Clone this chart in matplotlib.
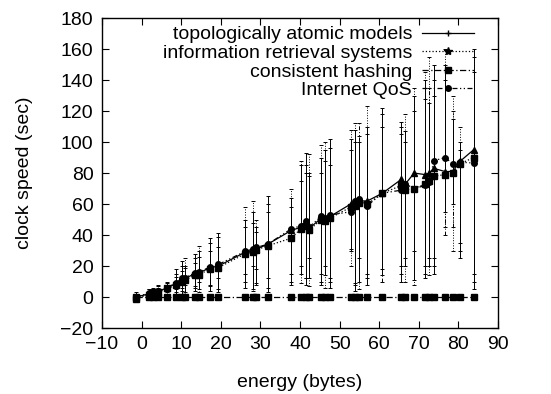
import matplotlib
matplotlib.use("Agg")
import matplotlib.pyplot as plt
from matplotlib.lines import Line2D

plt.rcParams['font.family'] = ['Liberation Sans', 'DejaVu Sans']

x = [-1.4, 1.8, 3.0, 4.2, 6.4, 8.6, 10.2, 11.0, 13.4, 14.4, 17.4, 19.4, 26.2, 28.2,
     29.0, 31.8, 37.8, 40.2, 41.4, 42.2, 45.4, 46.4, 47.6, 52.8, 53.8, 54.8, 57.0,
     60.8, 65.6, 66.6, 68.8, 71.6, 72.6, 73.8, 76.6, 78.6, 80.4, 83.8]

# topologically atomic models
topo = [0, 2, 3, 3.5, 6, 8.5, 11, 12, 15, 15.5, 19, 20, 29, 30, 31, 34, 43, 45, 48, 44,
        51, 50, 52, 60, 61, 62, 62, 67, 76, 73, 80, 79, 80, 83, 81, 81, 87.6, 95]
topo_lo = [-3, 0, 0, 1, 3, 2, 2, 3, 4, 5, 4, 3, 6, 5, 8, 3, 10, 15, 8, 12,
           8, 14, 6, 31, 4, 10, 8, 14, 10, 20, 11, 12, 20, 15, 55, 60, 25, 5]
topo_hi = [3, 5, 6, 6, 10, 18, 23, 20, 28, 30, 38, 41, 50, 55, 45, 65, 64, 85, 93, 78,
           90, 95, 102, 102, 108, 100, 110, 122, 113, 107, 130, 140, 125, 150, 150, 115, 100, 160]

# information retrieval systems
irs = [-1, 1.5, 2.5, 3, 5.5, 7.5, 10, 11, 14, 14.5, 18, 19, 28, 29, 30.5, 33, 38, 44, 46, 43,
       50, 49, 51, 58, 59, 61, 60, 67, 72, 69, 70, 73, 75, 78, 79, 80, 86, 90]
irs_lo = [-2, 0, 1, 0, 2, 3, 4, 2, 6, 3, 7, 5, 10, 4, 9, 6, 15, 9, 12, 7,
          10, 6, 12, 20, 9, 5, 12, 18, 15, 10, 8, 20, 14, 25, 45, 30, 35, 15]
irs_hi = [2, 4, 5, 8, 9, 15, 20, 25, 25, 33, 35, 39, 58, 62, 50, 60, 70, 88, 80, 92,
          98, 100, 96, 108, 112, 104, 123, 118, 110, 118, 135, 145, 155, 140, 160, 130, 110, 155]

# consistent hashing
hashing = [0, 0, 0, 0, 0, 0, 0, 0, 0, 0, 0, 0, 0, 0, 0, 0, 0, 0, 0, 0,
           0, 0, 0, 0, 0, 0, 0, 0, 0, 0, 0, 0, 0, 0, 0, 0, 0, 0]

# Internet QoS
qos = [0, 2.5, 3, 4, 6, 9, 12, 12.5, 15.5, 16, 19.5, 21, 29.5, 31, 32, 34, 44, 46, 49, 45,
       52, 51, 53, 55, 62, 63, 59, 67, 69, 73, 70, 72, 74, 88, 90, 86, 87, 86.5]
qos_lo = [-1, 1, 0, 2, 4, 5, 6, 8, 7, 10, 8, 12, 15, 20, 18, 12, 8, 20, 12, 25,
          15, 20, 10, 30, 8, 25, 15, 10, 20, 25, 30, 15, 25, 20, 40, 45, 30, 10]
qos_hi = [2, 5, 5, 7, 8, 13, 17, 19, 22, 26, 30, 32, 45, 48, 42, 55, 58, 75, 85, 80,
          80, 88, 85, 95, 100, 112, 105, 110, 105, 100, 120, 128, 135, 130, 140, 120, 95, 145]

fig = plt.figure(figsize=(5.51, 3.94), dpi=100)
ax = fig.add_axes([0.185, 0.1675, 0.719, 0.7865])


def draw(y, lo, hi, ls, marker, ms):
    yerr = None
    if lo is not None:
        yerr = [[v - l for v, l in zip(y, lo)], [h - v for v, h in zip(y, hi)]]
    eb = ax.errorbar(x, y, yerr=yerr, color='black', linestyle=ls, linewidth=0.9,
                     marker=marker, markersize=ms, elinewidth=0.7, capsize=1.5,
                     capthick=0.7)
    if lo is not None:
        for c in eb[2]:
            c.set_linestyle(ls)


draw(topo, topo_lo, topo_hi, '-', '^', 5)
draw(irs, irs_lo, irs_hi, ':', 's', 5)
draw(hashing, None, None, (0, (5, 2, 1, 2)), 's', 5)
draw(qos, qos_lo, qos_hi, (0, (4, 2, 1, 2, 1, 2)), 'o', 4)

ax.set_xlim(-10, 90)
ax.set_ylim(-20, 180)
ax.set_xticks(range(-10, 91, 10))
ax.set_yticks(range(-20, 181, 20))
ax.tick_params(direction='in', top=True, right=True, labelsize=14, length=5, width=0.8, pad=6)
for s in ax.spines.values():
    s.set_linewidth(1.0)
ax.set_xlabel('energy (bytes)', fontsize=14, labelpad=15)
ax.set_ylabel('clock speed (sec)', fontsize=14, labelpad=20)

handles = [
    Line2D([], [], color='black', linestyle='-', linewidth=0.9, marker='+', markersize=5),
    Line2D([], [], color='black', linestyle=':', linewidth=0.9, marker='*', markersize=6),
    Line2D([], [], color='black', linestyle=(0, (5, 2, 1, 2)), linewidth=0.9, marker='s', markersize=5),
    Line2D([], [], color='black', linestyle=(0, (4, 2, 1, 2, 1, 2)), linewidth=0.9, marker='o', markersize=4),
]
labels = ['topologically atomic models', 'information retrieval systems',
          'consistent hashing', 'Internet QoS']
ax.legend(handles, labels, loc='upper right', frameon=False, markerfirst=False,
          fontsize=14, handlelength=2.7, handletextpad=0.5, labelspacing=0.05,
          borderaxespad=0, borderpad=0, bbox_to_anchor=(0.94, 0.975))

fig.savefig('out.png', dpi=100)
